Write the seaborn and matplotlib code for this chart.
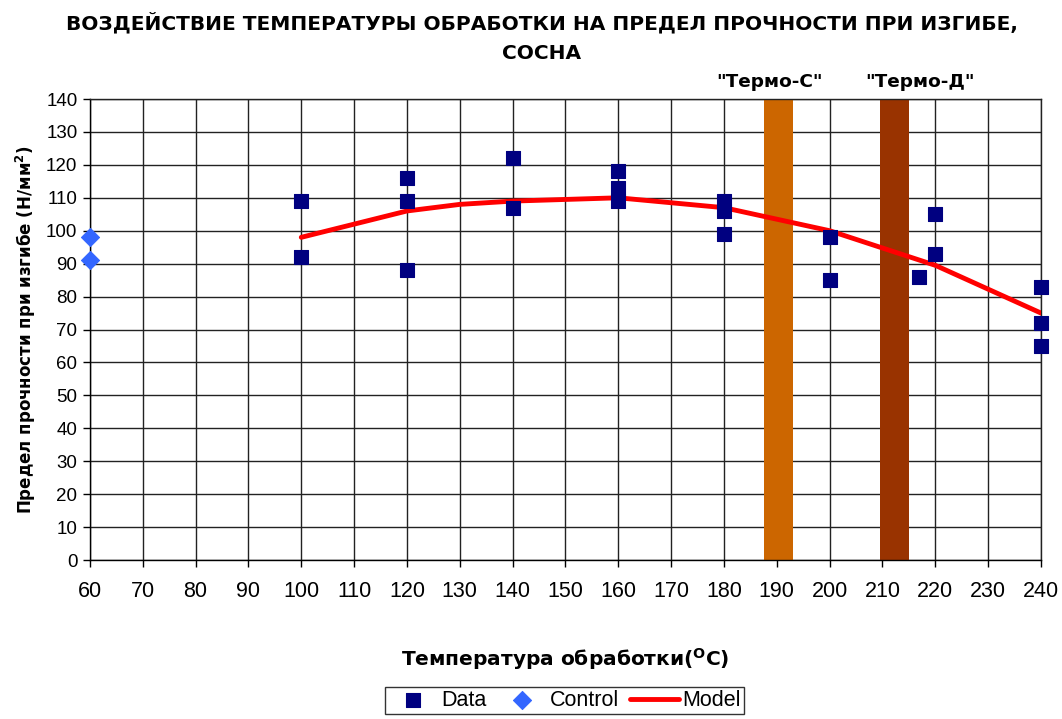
import seaborn as sns
import matplotlib.pyplot as plt
import pandas as pd

# data
data_temp = [100, 100, 120, 120, 120, 140, 140, 160, 160, 160, 180, 180, 180, 200, 200, 217, 220, 220, 240, 240, 240]
data_mor = [109, 92, 116, 109, 88, 122, 107, 118, 113, 109, 109, 106, 99, 98, 85, 86, 105, 93, 83, 72, 65]

control_temp = [60, 60]
control_mor = [98, 91]

model_temp = [100, 120, 130, 140, 160, 180, 200, 220, 240]
model_mor = [98, 106, 108, 109, 110, 107, 100, 89.5, 75]

band_names = ['"Термо-С"', '"Термо-Д"']
band_start = [187.5, 209.5]
band_end = [193, 215]
band_label_x = [188.7, 217.1]
band_colors = ["#CC6600", "#993300"]

df_data = pd.DataFrame({"temp": data_temp, "mor": data_mor})
df_ctrl = pd.DataFrame({"temp": control_temp, "mor": control_mor})
df_model = pd.DataFrame({"temp": model_temp, "mor": model_mor})

sns.set_style("white")
plt.rcParams['font.family'] = ['Liberation Sans', 'DejaVu Sans']
plt.rcParams['text.color'] = 'black'
plt.rcParams['axes.labelcolor'] = 'black'

fig = plt.figure(figsize=(10.62, 7.19), dpi=100)
ax = fig.add_axes([0.0847, 0.2211, 0.8955, 0.6412])

# treatment bands
for s, e, c in zip(band_start, band_end, band_colors):
    ax.axvspan(s, e, color=c, zorder=1, lw=0)

sns.lineplot(data=df_model, x="temp", y="mor", color="#FF0000", lw=3.5,
             ax=ax, label="Model", zorder=3)
sns.scatterplot(data=df_data, x="temp", y="mor", marker="s", s=95, color="#000080",
                edgecolor="#000080", ax=ax, label="Data", zorder=4, clip_on=False)
sns.scatterplot(data=df_ctrl, x="temp", y="mor", marker="D", s=85, color="#3366FF",
                edgecolor="#3366FF", ax=ax, label="Control", zorder=4, clip_on=False)

ax.set_xlim(60, 240)
ax.set_ylim(0, 140)
ax.set_xticks(range(60, 241, 10))
ax.set_yticks(range(0, 141, 10))
ax.grid(True, color="#222222", lw=1)
ax.set_axisbelow(True)
for sp in ax.spines.values():
    sp.set_color("#222222")
    sp.set_linewidth(1)
ax.spines["left"].set_color("black")
ax.spines["bottom"].set_color("black")
ax.tick_params(axis="both", direction="out", length=5, width=1, colors="black",
               bottom=True, left=True)
ax.tick_params(axis="x", labelsize=15.5, pad=10)
ax.tick_params(axis="y", labelsize=13.5, pad=4)

ax.set_xlabel("Температура обработки($\\mathregular{^{O}}$C)", fontsize=14.5,
              fontweight="bold", family="DejaVu Sans", labelpad=32)
ax.set_ylabel("Предел прочности при изгибе (Н/мм$\\mathregular{^{2}}$)", fontsize=12,
              fontweight="bold", family="DejaVu Sans", labelpad=6)

fig.text(0.51, 0.968, "ВОЗДЕЙСТВИЕ ТЕМПЕРАТУРЫ ОБРАБОТКИ НА ПРЕДЕЛ ПРОЧНОСТИ ПРИ ИЗГИБЕ,",
         ha="center", va="center", fontsize=14.5, fontweight="bold", family="DejaVu Sans")
fig.text(0.51, 0.926, "СОСНА", ha="center", va="center", fontsize=14.5,
         fontweight="bold", family="DejaVu Sans")

for name, lx in zip(band_names, band_label_x):
    ax.text(lx, 142.5, name, ha="center", va="bottom", fontsize=13.3,
            fontweight="bold", family="DejaVu Sans")

# legend in Data / Control / Model order
handles, labels = ax.get_legend_handles_labels()
order = [labels.index("Data"), labels.index("Control"), labels.index("Model")]
leg = ax.legend([handles[i] for i in order], [labels[i] for i in order],
                loc="center", bbox_to_anchor=(0.499, -0.305), ncol=3, frameon=True,
                fancybox=False, edgecolor="black", fontsize=15.5, handlelength=2.3,
                columnspacing=0.5, handletextpad=0.15, borderpad=0.15, borderaxespad=0)
leg.get_frame().set_linewidth(1)

fig.savefig("out.png", dpi=100)
